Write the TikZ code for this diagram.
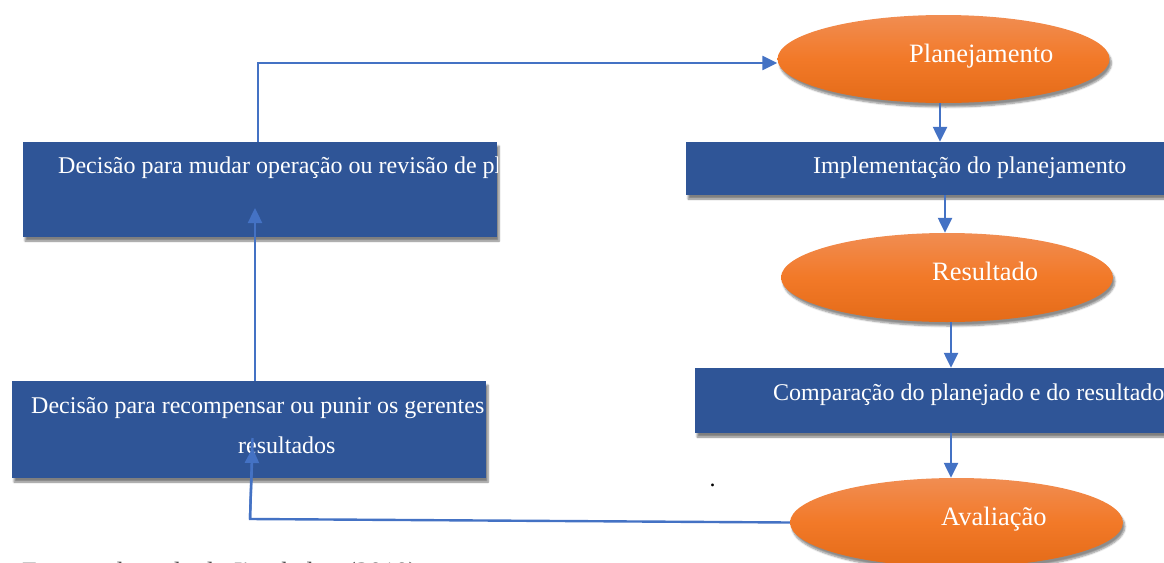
\documentclass[tikz,border=0pt]{standalone}
\usepackage{fontspec}
\setmainfont{Liberation Serif}
\usetikzlibrary{arrows.meta,shapes.geometric,shadows.blur}
\definecolor{boxblue}{RGB}{47,85,151}
\definecolor{arrblue}{RGB}{68,114,196}
\definecolor{orTop}{RGB}{241,141,82}
\definecolor{orMid}{RGB}{242,121,40}
\definecolor{orBot}{RGB}{228,107,24}
\tikzset{
  boxnode/.style={rectangle, fill=boxblue, draw=none, inner sep=0pt,
    blur shadow={shadow xshift=2pt, shadow yshift=-4pt, shadow blur steps=6, shadow opacity=50}},
  ellnode/.style={ellipse, draw=none, inner sep=0pt,
    top color=orTop, bottom color=orBot, middle color=orMid,
    blur shadow={shadow xshift=2pt, shadow yshift=-4pt, shadow blur steps=6, shadow opacity=45}},
  txt/.style={text=white, font=\fontsize{24}{28}\selectfont, inner sep=0pt, anchor=base west},
  etxt/.style={txt, font=\fontsize{26.5}{30}\selectfont},
  arr/.style={draw=arrblue, line width=2.4pt, -{Triangle[length=15pt,width=14pt]}},
  ln/.style={draw=arrblue, line width=2.4pt}
}
\begin{document}
\begin{tikzpicture}[x=1pt,y=-1pt]
\useasboundingbox (0,0) rectangle (1164,562);
% right column
\node[ellnode, minimum width=332pt, minimum height=88pt] (plan) at (943.5,59) {};
\node[etxt] (planT) at (909,62.5) {Planejamento};
\node[boxnode, minimum width=489pt, minimum height=53pt] (impl) at (930.5,168.5) {};
\node[txt] (implT) at (813,173) {Implementação do planejamento};
\node[ellnode, minimum width=332pt, minimum height=89pt] (res) at (947,277.5) {};
\node[etxt] (resT) at (932,280.5) {Resultado};
\node[boxnode, minimum width=480pt, minimum height=65pt] (comp) at (935,400.5) {};
\node[txt] (compT) at (773,400) {Comparação do planejado e do resultado};
\node[ellnode, minimum width=333pt, minimum height=89pt] (aval) at (956.5,522.5) {};
\node[etxt] (avalT) at (941,525.5) {Avaliação};
% left column
\node[boxnode, minimum width=474pt, minimum height=95pt] (dec1) at (260,189.5) {};
\begin{scope}
  \clip (dec1.south west) rectangle (dec1.north east);
  \node[txt] (dec1T) at (58,173) {Decisão para mudar operação ou revisão de planejamento};
\end{scope}
\node[boxnode, minimum width=474pt, minimum height=97pt] (dec2) at (249,429.5) {};
\begin{scope}
  \clip (dec2.south west) rectangle (dec2.north east);
  \node[txt] (dec2T) at (31,413) {Decisão para recompensar ou punir os gerentes pelos};
  \node[txt] (dec2T2) at (238,453) {resultados};
\end{scope}
% stray dot and caption
\node[font=\fontsize{24}{28}\selectfont, inner sep=0pt, anchor=base west] (dot) at (709.5,486) {.};
\node[font=\fontsize{26.4}{30}\selectfont, text=black!70, inner sep=0pt, anchor=base west] (cap) at (22,580) {Fonte: adaptado de Jiambalvo (2010)};
% connectors
\coordinate (c1) at (250,519);
\coordinate (c2) at (252.5,448);
\coordinate (c3) at (255,208);
\draw[arr] ([xshift=-3.5pt]plan.south) -- ([xshift=-3.5pt]plan.south |- impl.north);
\draw[arr] ([xshift=-2pt]res.north |- impl.south) -- ([xshift=-2pt]res.north);
\draw[arr] ([xshift=4pt]res.south) -- ([xshift=4pt]res.south |- comp.north);
\draw[arr] ([xshift=-5.5pt]aval.north |- comp.south) -- ([xshift=-5.5pt]aval.north);
\draw[ln] (aval.west) -- (c1) -- ([yshift=10pt]c2);
\draw[arr] (c1) -- (c2);
\draw[arr] (dec2.north -| c3) -- (c3);
\draw[arr] ([xshift=-2pt]dec1.north) |- ([yshift=-4pt]plan.west);
\end{tikzpicture}
\end{document}
